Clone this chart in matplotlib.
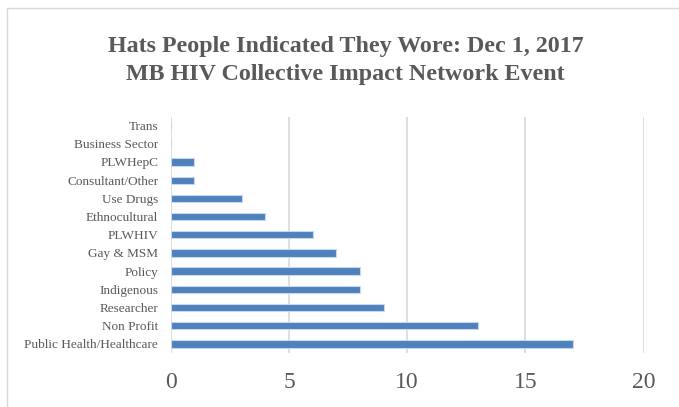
import matplotlib
matplotlib.use("Agg")
import matplotlib.pyplot as plt
from matplotlib.patches import Rectangle

categories = ["Public Health/Healthcare", "Non Profit", "Researcher", "Indigenous",
              "Policy", "Gay & MSM", "PLWHIV", "Ethnocultural", "Use Drugs",
              "Consultant/Other", "PLWHepC", "Business Sector", "Trans"]
values = [17, 13, 9, 8, 8, 7, 6, 4, 3, 1, 1, 0, 0]
xticks = [0, 5, 10, 15, 20]
title_lines = ["Hats People Indicated They Wore: Dec 1, 2017",
               "MB HIV Collective Impact Network Event"]

W, H = 679, 407
fig = plt.figure(figsize=(W / 100, H / 100), dpi=100)
fig.patch.set_facecolor("white")

# chart-area border (extends past right/bottom edges)
fig.patches.append(Rectangle((7 / W, -0.1), 1.2, 1 - 8 / H + 0.1,
                             transform=fig.transFigure, fill=False,
                             edgecolor="#D9D9D9", linewidth=1.0))

left, right = 170.7 / W, 643.7 / W
top, bottom = 1 - 116.5 / H, 1 - 353 / H
ax = fig.add_axes([left, bottom, right - left, top - bottom])

ypos = list(range(len(categories)))
ax.barh(ypos, values, height=0.4, color="#4F81BD", edgecolor="#C6D7EE",
        linewidth=0.8, zorder=3)
ax.set_ylim(-0.5, len(categories) - 0.5)
ax.set_xlim(0, 20)
ax.set_xticks(xticks)
ax.set_xticklabels([str(t) for t in xticks])
ax.set_yticks(ypos)
ax.set_yticklabels(categories)
ax.grid(axis="x", color="#D9D9D9", linewidth=1.2, zorder=0)
ax.grid(axis="y", visible=False)
for s in ax.spines.values():
    s.set_visible(False)
ax.tick_params(axis="both", length=0)
ax.tick_params(axis="x", pad=14, labelsize=17, labelcolor="#595959")
ax.tick_params(axis="y", pad=9, labelsize=9.5, labelcolor="#595959")
for lbl in ax.get_xticklabels() + ax.get_yticklabels():
    lbl.set_fontfamily("Liberation Serif")

cx = 0.5 * (108 + 583) / W
for line, base in zip(title_lines, [52, 80]):
    fig.text(cx, 1 - base / H, line, ha="center", va="baseline",
             fontsize=17.3, fontweight="bold", color="#595959",
             family="Liberation Serif")

fig.savefig("out.png", dpi=100, facecolor="white")
